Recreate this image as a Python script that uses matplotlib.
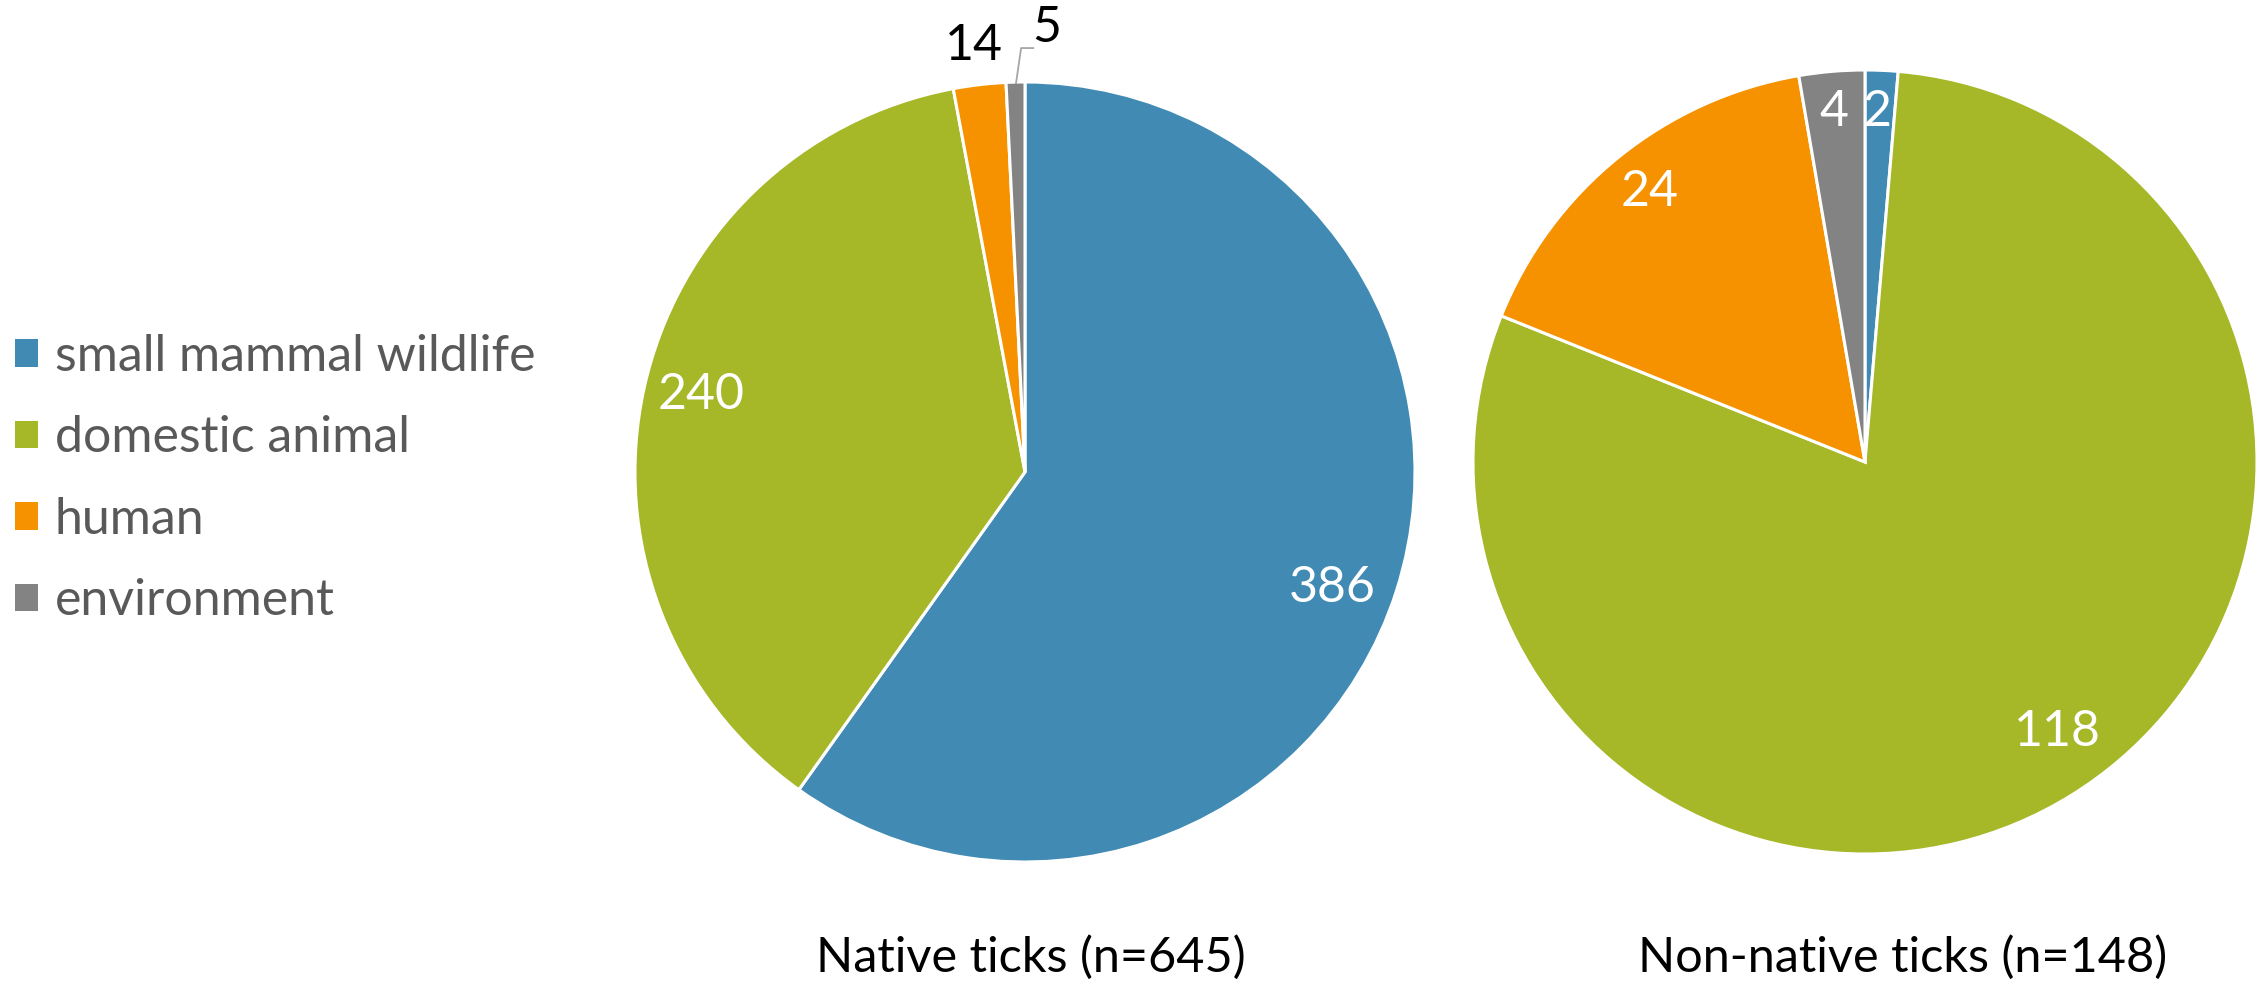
import matplotlib
matplotlib.use("Agg")
import matplotlib.pyplot as plt

categories = ["small mammal wildlife", "domestic animal", "human", "environment"]
native_values = [386, 240, 14, 5]
nonnative_values = [2, 118, 24, 4]
titles = ["Native ticks (n=645)", "Non-native ticks (n=148)"]
colors = ["#418AB3", "#A6B727", "#F69200", "#838383"]

W, H = 2267, 988
fig = plt.figure(figsize=(W / 100, H / 100), dpi=100)

LABEL_FONT = ["Lato", "DejaVu Sans"]


def make_ax(cx, cy, r):
    return fig.add_axes([(cx - r) / W, (H - cy - r) / H, 2 * r / W, 2 * r / H])


def draw_pie(ax, values, label_pos, label_colors):
    wedges, _ = ax.pie(values, colors=colors, startangle=90, counterclock=False,
                       wedgeprops=dict(edgecolor="white", linewidth=2.2))
    ax.set_xlim(-1, 1)
    ax.set_ylim(-1, 1)
    ax.set_aspect("equal")
    ax.axis("off")
    for v, (x, y), c in zip(values, label_pos, label_colors):
        ax.text(x, y, str(v), ha="center", va="center", color=c,
                fontsize=36, family=LABEL_FONT, zorder=10)
    return wedges


ax1 = make_ax(1025, 472, 390)
wedges = draw_pie(ax1, native_values,
                  [(0.787, -0.297), (-0.831, 0.197), (-0.131, 1.092), (0.056, 1.138)],
                  ["white", "white", "black", "black"])
ax1.plot([-0.023, -0.010, 0.021], [0.997, 1.087, 1.087], color="#A6A6A6",
         lw=1.3, clip_on=False)

ax2 = make_ax(1865, 462, 392)
draw_pie(ax2, nonnative_values,
         [(0.031, 0.893), (0.49, -0.69), (-0.549, 0.689), (-0.079, 0.893)],
         ["white", "white", "white", "white"])

fig.text(1031 / W, 1 - 957 / H, titles[0], ha="center", va="center",
         fontsize=35, family=LABEL_FONT, color="black")
fig.text(1903 / W, 1 - 957 / H, titles[1], ha="center", va="center",
         fontsize=35, family=LABEL_FONT, color="black")

leg = fig.legend(wedges, categories, loc="center left",
                 bbox_to_anchor=(0.0, 1 - 479 / H), frameon=False,
                 prop=dict(family=LABEL_FONT, size=36),
                 labelcolor="#595959", handlelength=0.46, handleheight=0.46,
                 handletextpad=0.34, labelspacing=0.71, borderaxespad=0.0,
                 borderpad=0.3)
for h in leg.legend_handles:
    h.set_edgecolor("none")

fig.savefig("out.png", dpi=100)
